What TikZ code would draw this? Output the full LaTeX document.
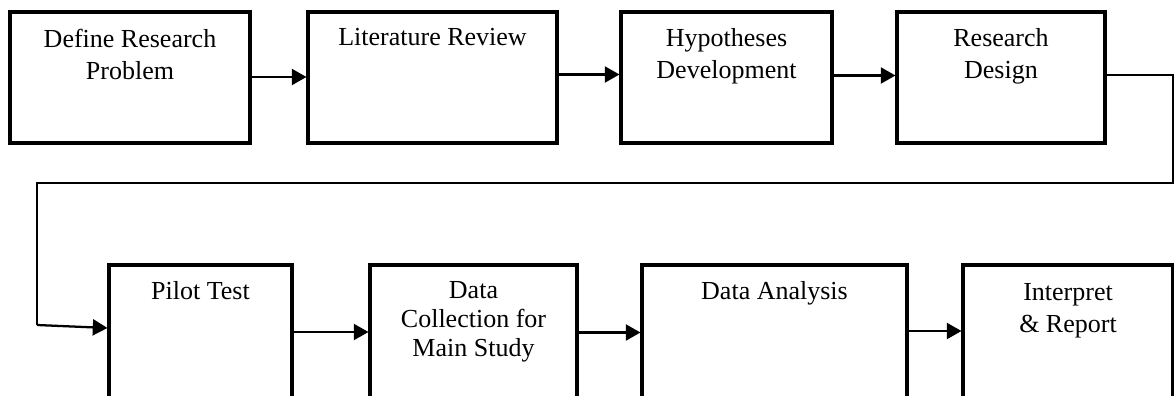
\documentclass[tikz,border=0pt]{standalone}
\usepackage{fontspec}
\setmainfont{Liberation Serif}
\usetikzlibrary{arrows.meta,calc}
\tikzset{
  box/.style 2 args={draw=black, line width=2.3pt, minimum width=#1*0.75pt, minimum height=#2*0.75pt, inner sep=0pt},
  txt/.style={anchor=north, align=center, inner sep=0pt, font=\fontsize{19.5}{24}\selectfont},
  arr/.style={line width=1.7pt, -{Triangle[length=11pt, width=12pt]}},
  thin/.style={line width=1pt},
}
\begin{document}
\begin{tikzpicture}[x=0.75pt, y=-0.75pt]
\useasboundingbox (0,0) rectangle (1174,396);
\clip (0,0) rectangle (1174,396);
% top row
\node[box={240}{131}] (n1) at (130,77.5) {};
\node[box={249}{131}] (n2) at (432.5,77.5) {};
\node[box={211}{131}] (n3) at (726.5,77.5) {};
\node[box={208}{131}] (n4) at (1001,77.5) {};
% bottom row
\node[box={183}{135}] (p1) at (200.5,332.5) {};
\node[box={207}{135}] (p2) at (473.5,332.5) {};
\node[box={265}{135}] (p3) at (774.5,332.5) {};
\node[box={210}{135}] (p4) at (1068,332.5) {};
% texts
\node[txt] (t1) at ($(n1.north)+(0,18)$) {Define Research\\Problem};
\node[txt] (t2) at ($(n2.north)+(0,18)$) {Literature Review};
\node[txt] (t3) at ($(n3.north)+(0,18)$) {Hypotheses\\Development};
\node[txt] (t4) at ($(n4.north)+(0,18)$) {Research\\Design};
\node[txt] (s1) at ($(p1.north)+(0,18)$) {Pilot Test};
\node[txt, font=\fontsize{19.5}{21.5}\selectfont] (s2) at ($(p2.north)+(0,18)$) {Data\\Collection for\\Main Study};
\node[txt] (s3) at ($(p3.north)+(0,18)$) {Data Analysis};
\node[txt] (s4) at ($(p4.north)+(0,20)$) {Interpret\\\& Report};
% connectors top row
\draw[arr] ($(n1.east)+(0,-0.5)$) -- ($(n2.west)+(0,-0.5)$);
\draw[arr] ($(n2.east)+(0,-3)$) -- ($(n3.west)+(0,-3)$);
\draw[arr] ($(n3.east)+(0,-2)$) -- ($(n4.west)+(0,-2)$);
% loop to second row
\coordinate (c1) at (1173,75);
\coordinate (c2) at (1173,183);
\coordinate (c3) at (37,183);
\coordinate (c4) at (37,325);
\draw[thin] ($(n4.east)+(0,-2.5)$) -- (c1) -- (c2) -- (c3) -- (c4);
\draw[arr] (c4) -- ($(p1.west)+(0,-4.5)$);
% bottom row
\draw[arr] ($(p1.east)+(0,-0.5)$) -- ($(p2.west)+(0,-0.5)$);
\draw[arr] ($(p2.east)+(0,0)$) -- ($(p3.west)+(0,0)$);
\draw[arr] ($(p3.east)+(0,-1.5)$) -- ($(p4.west)+(0,-1.5)$);
\end{tikzpicture}
\end{document}
